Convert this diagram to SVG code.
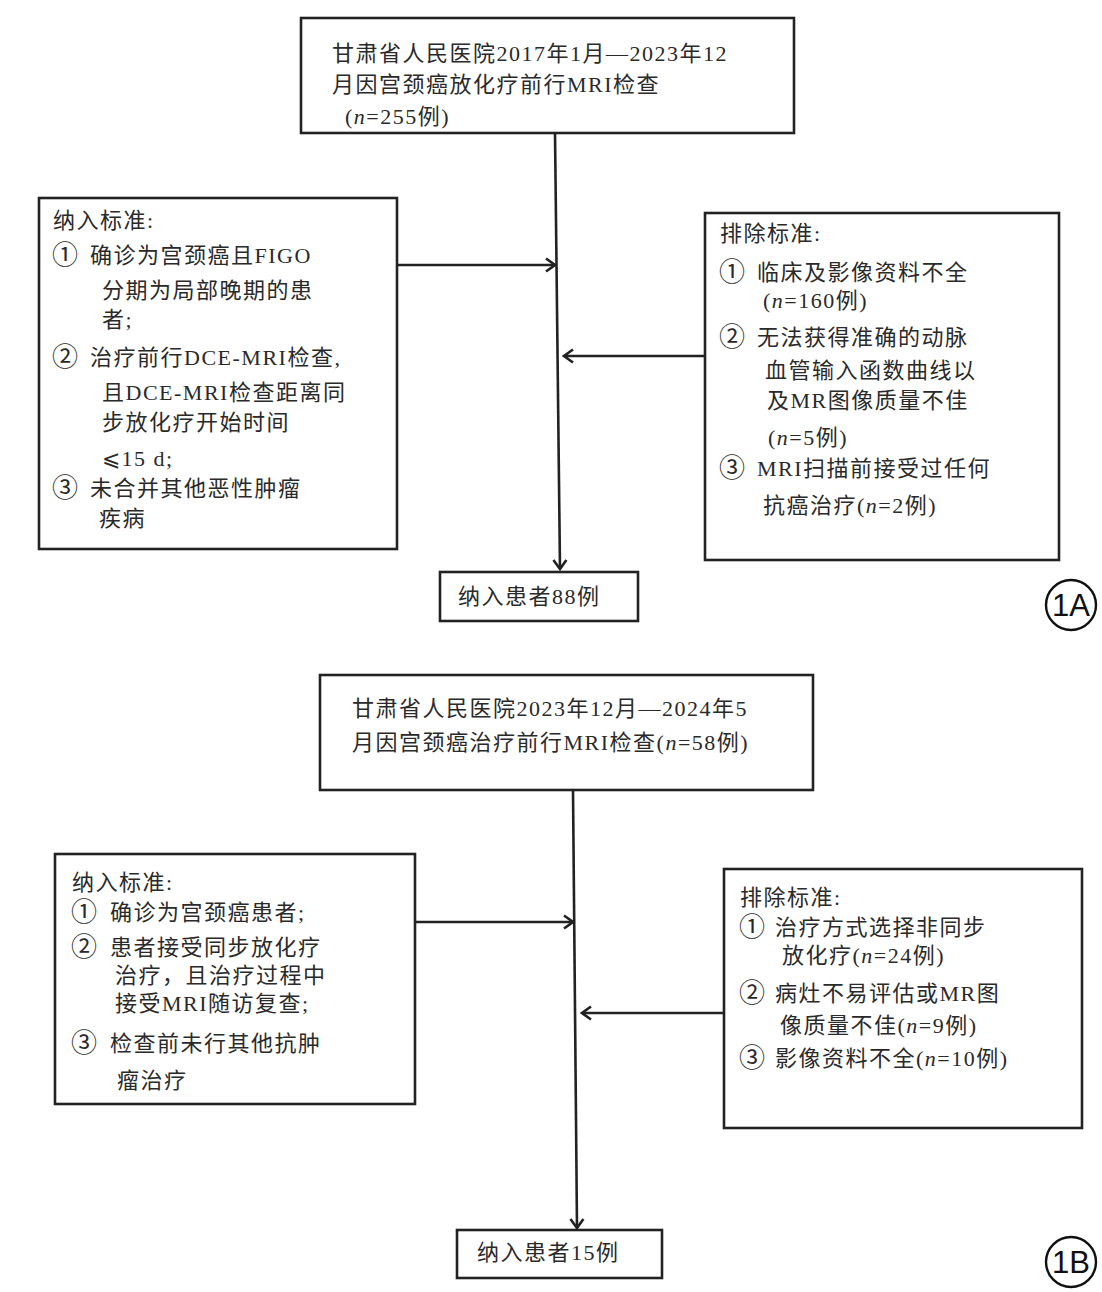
<svg xmlns="http://www.w3.org/2000/svg" width="1102" height="1292" viewBox="0 0 1102 1292">
<style>
.box{fill:#fff;stroke:#222;stroke-width:2.6}
.ln{fill:none;stroke:#222;stroke-width:2.6}
.t{font-family:"Liberation Serif","Noto Sans CJK SC",serif;font-size:22px;letter-spacing:1.5px;fill:#2a2a2a}
.num{font-size:26px;letter-spacing:0}
.lab{font-family:"Liberation Sans",Arial,sans-serif;font-size:31px;fill:#111;text-anchor:middle}
.circ{fill:none;stroke:#111;stroke-width:2.4}
</style>
<defs>
<marker id="ah" markerUnits="userSpaceOnUse" markerWidth="12" markerHeight="16" viewBox="0 0 12 16" refX="10" refY="8" orient="auto">
<path d="M1,1.5 L10,8 L1,14.5" fill="none" stroke="#222" stroke-width="2.6"/>
</marker>
</defs>
<rect width="1102" height="1292" fill="#fff"/>

<g id="connectors">
<line class="ln" x1="555" y1="133" x2="560" y2="569" marker-end="url(#ah)"/>
<line class="ln" x1="388" y1="265" x2="555" y2="265" marker-end="url(#ah)"/>
<line class="ln" x1="705" y1="356" x2="564" y2="356" marker-end="url(#ah)"/>
<line class="ln" x1="573" y1="790" x2="577" y2="1228" marker-end="url(#ah)"/>
<line class="ln" x1="408" y1="922" x2="573" y2="922" marker-end="url(#ah)"/>
<line class="ln" x1="724" y1="1013" x2="582" y2="1013" marker-end="url(#ah)"/>
</g>

<g id="a-top">
<rect class="box" x="301" y="18" width="493" height="115"/>
<text class="t" x="332" y="61">甘肃省人民医院2017年1月—2023年12</text>
<text class="t" x="332" y="92">月因宫颈癌放化疗前行MRI检查</text>
<text class="t" x="345" y="124">(<tspan font-style="italic">n</tspan>=255例)</text>
</g>

<g id="a-include">
<rect class="box" x="39" y="198" width="358" height="351"/>
<text class="t" x="53" y="228">纳入标准:</text>
<text class="t num" x="52" y="264">①</text>
<text class="t" x="90" y="263">确诊为宫颈癌且FIGO</text>
<text class="t" x="102" y="298">分期为局部晚期的患</text>
<text class="t" x="102" y="327">者;</text>
<text class="t num" x="52" y="366">②</text>
<text class="t" x="90" y="365">治疗前行DCE-MRI检查,</text>
<text class="t" x="102" y="400">且DCE-MRI检查距离同</text>
<text class="t" x="102" y="430">步放化疗开始时间</text>
<text class="t" x="102" y="466">⩽15 d;</text>
<text class="t num" x="52" y="497">③</text>
<text class="t" x="90" y="496">未合并其他恶性肿瘤</text>
<text class="t" x="99" y="526">疾病</text>
</g>

<g id="a-exclude">
<rect class="box" x="705" y="213" width="354" height="347"/>
<text class="t" x="720" y="241">排除标准:</text>
<text class="t num" x="719" y="281">①</text>
<text class="t" x="757" y="280">临床及影像资料不全</text>
<text class="t" x="763" y="308">(<tspan font-style="italic">n</tspan>=160例)</text>
<text class="t num" x="719" y="346">②</text>
<text class="t" x="757" y="345">无法获得准确的动脉</text>
<text class="t" x="765" y="378">血管输入函数曲线以</text>
<text class="t" x="767" y="408">及MR图像质量不佳</text>
<text class="t" x="768" y="445">(<tspan font-style="italic">n</tspan>=5例)</text>
<text class="t num" x="719" y="477">③</text>
<text class="t" x="757" y="476">MRI扫描前接受过任何</text>
<text class="t" x="763" y="513">抗癌治疗(<tspan font-style="italic">n</tspan>=2例)</text>
</g>

<g id="a-result">
<rect class="box" x="440" y="572" width="198" height="49"/>
<text class="t" x="458" y="604">纳入患者88例</text>
</g>

<g id="label-1a">
<circle class="circ" cx="1071" cy="605" r="25"/>
<text class="lab" x="1071" y="616">1A</text>
</g>

<g id="b-top">
<rect class="box" x="320" y="675" width="493" height="115"/>
<text class="t" x="352" y="716">甘肃省人民医院2023年12月—2024年5</text>
<text class="t" x="352" y="750">月因宫颈癌治疗前行MRI检查(<tspan font-style="italic">n</tspan>=58例)</text>
</g>

<g id="b-include">
<rect class="box" x="55" y="854" width="360" height="250"/>
<text class="t" x="72" y="890">纳入标准:</text>
<text class="t num" x="71" y="921">①</text>
<text class="t" x="110" y="920">确诊为宫颈癌患者;</text>
<text class="t num" x="71" y="956">②</text>
<text class="t" x="110" y="955">患者接受同步放化疗</text>
<text class="t" x="115" y="983">治疗，且治疗过程中</text>
<text class="t" x="115" y="1011">接受MRI随访复查;</text>
<text class="t num" x="71" y="1052">③</text>
<text class="t" x="110" y="1051">检查前未行其他抗肿</text>
<text class="t" x="117" y="1088">瘤治疗</text>
</g>

<g id="b-exclude">
<rect class="box" x="724" y="869" width="358" height="259"/>
<text class="t" x="740" y="905">排除标准:</text>
<text class="t num" x="739" y="936">①</text>
<text class="t" x="775" y="935">治疗方式选择非同步</text>
<text class="t" x="782" y="963">放化疗(<tspan font-style="italic">n</tspan>=24例)</text>
<text class="t num" x="739" y="1002">②</text>
<text class="t" x="775" y="1001">病灶不易评估或MR图</text>
<text class="t" x="780" y="1033">像质量不佳(<tspan font-style="italic">n</tspan>=9例)</text>
<text class="t num" x="739" y="1067">③</text>
<text class="t" x="775" y="1066">影像资料不全(<tspan font-style="italic">n</tspan>=10例)</text>
</g>

<g id="b-result">
<rect class="box" x="457" y="1230" width="205" height="48"/>
<text class="t" x="477" y="1260">纳入患者15例</text>
</g>

<g id="label-1b">
<circle class="circ" cx="1071" cy="1262" r="25"/>
<text class="lab" x="1071" y="1273">1B</text>
</g>
</svg>
